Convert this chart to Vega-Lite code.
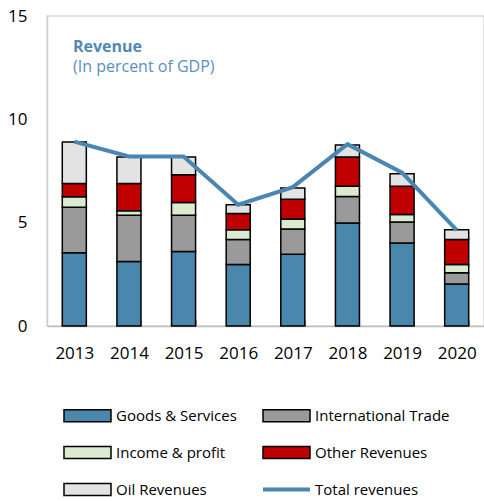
{
  "$schema": "https://vega.github.io/schema/vega-lite/v6.json",
  "autosize": "none",
  "width": 437,
  "height": 310,
  "padding": {"left": 47, "top": 16, "right": 0, "bottom": 175},
  "background": "white",
  "config": {
    "font": "Open Sans",
    "view": {"stroke": "#d9d9d9", "strokeWidth": 1.5}
  },
  "title": {
    "text": "Revenue",
    "subtitle": "(In percent of GDP)",
    "anchor": "start",
    "frame": "group",
    "orient": "top",
    "offset": -68,
    "dx": 26,
    "font": "Open Sans",
    "fontSize": 16,
    "fontWeight": "bold",
    "color": "#5487b6",
    "subtitleFont": "Open Sans",
    "subtitleFontSize": 16,
    "subtitleColor": "#5b8fc0",
    "subtitlePadding": 4
  },
  "datasets": {
    "parts": [
      {"year": "2013", "series": "Goods & Services", "value": 3.55},
      {"year": "2013", "series": "International Trade", "value": 2.19},
      {"year": "2013", "series": "Income & profit", "value": 0.52},
      {"year": "2013", "series": "Other Revenues", "value": 0.63},
      {"year": "2013", "series": "Oil Revenues", "value": 2.01},
      {"year": "2014", "series": "Goods & Services", "value": 3.12},
      {"year": "2014", "series": "International Trade", "value": 2.24},
      {"year": "2014", "series": "Income & profit", "value": 0.22},
      {"year": "2014", "series": "Other Revenues", "value": 1.31},
      {"year": "2014", "series": "Oil Revenues", "value": 1.29},
      {"year": "2015", "series": "Goods & Services", "value": 3.6},
      {"year": "2015", "series": "International Trade", "value": 1.76},
      {"year": "2015", "series": "Income & profit", "value": 0.62},
      {"year": "2015", "series": "Other Revenues", "value": 1.34},
      {"year": "2015", "series": "Oil Revenues", "value": 0.86},
      {"year": "2016", "series": "Goods & Services", "value": 2.97},
      {"year": "2016", "series": "International Trade", "value": 1.21},
      {"year": "2016", "series": "Income & profit", "value": 0.48},
      {"year": "2016", "series": "Other Revenues", "value": 0.78},
      {"year": "2016", "series": "Oil Revenues", "value": 0.43},
      {"year": "2017", "series": "Goods & Services", "value": 3.47},
      {"year": "2017", "series": "International Trade", "value": 1.22},
      {"year": "2017", "series": "Income & profit", "value": 0.49},
      {"year": "2017", "series": "Other Revenues", "value": 0.95},
      {"year": "2017", "series": "Oil Revenues", "value": 0.55},
      {"year": "2018", "series": "Goods & Services", "value": 4.98},
      {"year": "2018", "series": "International Trade", "value": 1.29},
      {"year": "2018", "series": "Income & profit", "value": 0.49},
      {"year": "2018", "series": "Other Revenues", "value": 1.42},
      {"year": "2018", "series": "Oil Revenues", "value": 0.58},
      {"year": "2019", "series": "Goods & Services", "value": 4.02},
      {"year": "2019", "series": "International Trade", "value": 1.01},
      {"year": "2019", "series": "Income & profit", "value": 0.37},
      {"year": "2019", "series": "Other Revenues", "value": 1.36},
      {"year": "2019", "series": "Oil Revenues", "value": 0.61},
      {"year": "2020", "series": "Goods & Services", "value": 2.03},
      {"year": "2020", "series": "International Trade", "value": 0.55},
      {"year": "2020", "series": "Income & profit", "value": 0.39},
      {"year": "2020", "series": "Other Revenues", "value": 1.21},
      {"year": "2020", "series": "Oil Revenues", "value": 0.48}
    ],
    "totals": [
      {"year": "2013", "series": "Total revenues", "value": 8.92},
      {"year": "2014", "series": "Total revenues", "value": 8.2},
      {"year": "2015", "series": "Total revenues", "value": 8.2},
      {"year": "2016", "series": "Total revenues", "value": 5.87},
      {"year": "2017", "series": "Total revenues", "value": 6.72},
      {"year": "2018", "series": "Total revenues", "value": 8.8},
      {"year": "2019", "series": "Total revenues", "value": 7.42},
      {"year": "2020", "series": "Total revenues", "value": 4.64}
    ]
  },
  "encoding": {
    "x": {
      "field": "year",
      "type": "nominal",
      "scale": {"paddingInner": 0.56, "paddingOuter": 0.28},
      "axis": {
        "title": null,
        "labelAngle": 0,
        "labelFont": "Open Sans",
        "labelFontSize": 17,
        "labelColor": "#000000",
        "labelPadding": 25,
        "tickBand": "extent",
        "tickSize": -6,
        "tickWidth": 1.2,
        "tickColor": "#a6a6a6",
        "domainColor": "#bfbfbf",
        "domainWidth": 1.5
      }
    },
    "y": {
      "field": "value",
      "type": "quantitative",
      "scale": {"domain": [0, 15]},
      "axis": {
        "title": null,
        "values": [0, 5, 10, 15],
        "grid": false,
        "ticks": false,
        "labelFont": "Open Sans",
        "labelFontSize": 17,
        "labelColor": "#000000",
        "labelPadding": 20,
        "domainColor": "#d0d0d0",
        "domainWidth": 1.5
      }
    }
  },
  "layer": [
    {
      "data": {"name": "parts"},
      "transform": [
        {"calculate": "indexof(['Goods & Services', 'International Trade', 'Income & profit', 'Other Revenues', 'Oil Revenues'], datum.series)", "as": "stackRank"}
      ],
      "mark": {"type": "bar", "stroke": "black", "strokeWidth": 1.5},
      "encoding": {
        "y": {"field": "value", "type": "quantitative", "stack": "zero"},
        "order": {"field": "stackRank", "type": "quantitative", "sort": "ascending"},
        "color": {
          "field": "series",
          "type": "nominal",
          "scale": {
            "domain": ["Goods & Services", "International Trade", "Income & profit", "Other Revenues", "Oil Revenues", "Total revenues"],
            "range": ["#4a87ad", "#9a9a9a", "#dcebcf", "#c00000", "#e3e3e3", "#4a86b4"]
          },
          "legend": {
            "title": null,
            "orient": "none",
            "direction": "horizontal",
            "legendX": 17,
            "legendY": 392,
            "columns": 2,
            "columnPadding": 18,
            "rowPadding": 18,
            "padding": 0,
            "labelFont": "Open Sans",
            "labelFontSize": 15,
            "labelColor": "#000000",
            "labelOffset": 5,
            "labelLimit": 300,
            "symbolSize": 2209,
            "symbolType": "M-1,-0.255H1V0.255H-1Z",
            "symbolStrokeColor": "black",
            "symbolStrokeWidth": 1.5,
            "symbolOpacity": 1,
            "encode": {
              "symbols": {
                "update": {
                  "x": {"value": 23.5},
                  "size": {"value": 2209},
                  "shape": {"signal": "datum.label === 'Total revenues' ? 'M-1,0H1' : 'M-1,-0.255H1V0.255H-1Z'"},
                  "stroke": {"signal": "datum.label === 'Total revenues' ? '#4a86b4' : '#000000'"},
                  "strokeOpacity": {"value": 1},
                  "strokeWidth": {"signal": "datum.label === 'Total revenues' ? 4 : 1.5"},
                  "fill": {"signal": "datum.label === 'Total revenues' ? 'transparent' : scale('color', datum.value)"},
                  "fillOpacity": {"value": 1},
                  "opacity": {"value": 1}
                }
              },
              "labels": {
                "update": {
                  "x": {"value": 52}
                }
              }
            }
          }
        }
      }
    },
    {
      "data": {"name": "totals"},
      "mark": {"type": "line", "strokeWidth": 4, "stroke": "#4a86b4"},
      "encoding": {}
    }
  ]
}
